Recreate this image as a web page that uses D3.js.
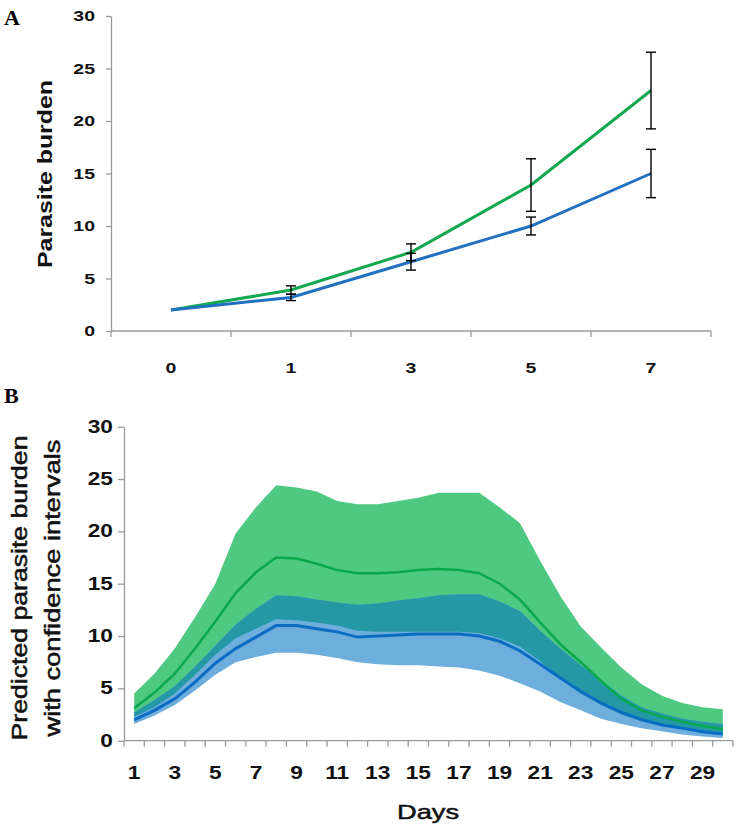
<!DOCTYPE html>
<html>
<head>
<meta charset="utf-8">
<script src="https://cdn.jsdelivr.net/npm/d3@7"></script>
<style>
  html, body { margin: 0; padding: 0; background: #fff; }
  svg { display: block; font-family: Arial, "Liberation Sans", sans-serif; }
</style>
</head>
<body>
<svg id="chart" width="738" height="832"></svg>
<script>
// ---------- Panel A data ----------
const catsA = ["0", "1", "3", "5", "7"];
const greenA = [2.0, 3.9, 7.5, 13.9, 22.9];
const greenErrA = [0, 0.4, 0.8, 2.5, 3.65];
const blueA = [2.0, 3.2, 6.6, 10.0, 15.0];
const blueErrA = [0, 0.3, 0.8, 0.85, 2.3];
const ticksA = [0, 5, 10, 15, 20, 25, 30];

// ---------- Panel B data ----------
const daysB = d3.range(1, 31);
const greenHiB = [4.5, 6.4, 8.8, 11.8, 15.0, 19.8, 22.3, 24.4, 24.2, 23.8, 22.9, 22.6, 22.6, 22.9, 23.2, 23.7, 23.7, 23.7, 22.3, 20.8, 17.2, 13.8, 10.9, 8.9, 7.0, 5.4, 4.3, 3.6, 3.2, 3.0];
const greenMidB = [3.1, 4.6, 6.4, 8.8, 11.4, 14.1, 16.1, 17.5, 17.4, 16.9, 16.3, 16.0, 16.0, 16.1, 16.3, 16.4, 16.3, 16.0, 15.0, 13.5, 11.3, 9.2, 7.5, 5.7, 4.0, 2.9, 2.3, 1.8, 1.4, 1.1];
const greenLoB = [2.3, 3.2, 4.5, 6.3, 8.2, 9.8, 10.7, 11.6, 11.5, 11.3, 11.0, 10.5, 10.4, 10.4, 10.4, 10.4, 10.4, 10.3, 9.8, 9.0, 7.6, 5.9, 4.5, 3.4, 2.5, 1.9, 1.4, 1.1, 0.8, 0.6];
const blueHiB = [2.7, 3.9, 5.2, 7.1, 9.1, 11.1, 12.6, 13.9, 13.8, 13.5, 13.2, 13.0, 13.1, 13.4, 13.6, 13.9, 14.0, 14.0, 13.3, 12.4, 10.5, 8.8, 7.2, 5.8, 4.3, 3.2, 2.6, 2.1, 1.8, 1.6];
const blueMidB = [2.0, 2.9, 4.0, 5.6, 7.4, 8.8, 9.9, 11.0, 11.0, 10.7, 10.4, 9.9, 10.0, 10.1, 10.2, 10.2, 10.2, 10.0, 9.5, 8.6, 7.3, 6.0, 4.7, 3.6, 2.7, 2.0, 1.5, 1.2, 0.85, 0.65];
const blueLoB = [1.6, 2.4, 3.4, 4.8, 6.3, 7.5, 8.0, 8.4, 8.4, 8.2, 7.9, 7.5, 7.3, 7.2, 7.2, 7.1, 7.0, 6.7, 6.2, 5.5, 4.7, 3.7, 2.9, 2.1, 1.6, 1.2, 0.9, 0.6, 0.4, 0.25];
const ticksB = [0, 5, 10, 15, 20, 25, 30];

const svg = d3.select("#chart");
const axisColor = "#9a9a9a";
const SX = 1.3; // horizontal widening of the original lettering

// ================= PANEL A =================
const xA = d3.scaleBand().domain(catsA).range([111, 711]);
const yA = d3.scaleLinear().domain([0, 30]).range([331, 16]);
const gA = svg.append("g");

const yAxisA = gA.append("g").attr("transform", "translate(111,0)")
  .call(d3.axisLeft(yA).tickValues(ticksA).tickSize(5).tickSizeOuter(0));
yAxisA.selectAll("path, line").attr("stroke", axisColor).attr("stroke-width", 1.3);
yAxisA.selectAll("text").attr("font-size", 15).attr("font-weight", "bold").attr("fill", "#111")
  .attr("x", -16 / SX).attr("transform", `scale(${SX},1)`);

gA.append("line").attr("x1", 111).attr("x2", 711).attr("y1", yA(0)).attr("y2", yA(0))
  .attr("stroke", axisColor).attr("stroke-width", 1.3);
const boundsA = catsA.map(c => xA(c)).concat([xA(catsA[catsA.length - 1]) + xA.bandwidth()]);
gA.selectAll(".tA").data(boundsA).enter().append("line")
  .attr("x1", d => d).attr("x2", d => d).attr("y1", yA(0)).attr("y2", yA(0) + 6)
  .attr("stroke", axisColor).attr("stroke-width", 1.3);
gA.selectAll(".lA").data(catsA).enter().append("text")
  .attr("transform", d => `translate(${xA(d) + xA.bandwidth() / 2},372.5) scale(${SX},1)`)
  .attr("text-anchor", "middle").attr("font-size", 15).attr("font-weight", "bold").attr("fill", "#111")
  .text(d => d);

const cxA = (d, i) => xA(catsA[i]) + xA.bandwidth() / 2;
const lineA = d3.line().x((d, i) => cxA(d, i)).y(d => yA(d));
gA.append("path").datum(greenA).attr("d", lineA).attr("fill", "none")
  .attr("stroke", "#12a84f").attr("stroke-width", 3);
gA.append("path").datum(blueA).attr("d", lineA).attr("fill", "none")
  .attr("stroke", "#2270c0").attr("stroke-width", 3);

function errBars(vals, errs) {
  vals.forEach((v, i) => {
    if (!errs[i]) return;
    const x = cxA(v, i), y1 = yA(v - errs[i]), y2 = yA(v + errs[i]);
    gA.append("line").attr("x1", x).attr("x2", x).attr("y1", y1).attr("y2", y2).attr("stroke", "#000").attr("stroke-width", 1.4);
    [y1, y2].forEach(y => gA.append("line").attr("x1", x - 5).attr("x2", x + 5).attr("y1", y).attr("y2", y).attr("stroke", "#000").attr("stroke-width", 1.4));
  });
}
errBars(greenA, greenErrA);
errBars(blueA, blueErrA);

gA.append("text").attr("transform", "translate(52,174) rotate(-90)")
  .attr("text-anchor", "middle").attr("font-size", 19.5).attr("font-weight", "bold").attr("fill", "#111")
  .attr("textLength", 188).attr("lengthAdjust", "spacingAndGlyphs")
  .text("Parasite burden");
svg.append("text").attr("x", 4).attr("y", 25).attr("font-family", "'Liberation Serif', 'Times New Roman', serif")
  .attr("font-size", 22).attr("font-weight", "bold").text("A");

// ================= PANEL B =================
const xB = d3.scaleBand().domain(daysB).range([124, 733]);
const yB = d3.scaleLinear().domain([0, 30]).range([740.7, 426.7]);
const gB = svg.append("g");
const cxB = (d, i) => xB(daysB[i]) + xB.bandwidth() / 2;

const idx = d3.range(daysB.length);
const areaG = d3.area().x(i => cxB(null, i)).y0(i => yB(greenLoB[i])).y1(i => yB(greenHiB[i]));
const areaBl = d3.area().x(i => cxB(null, i)).y0(i => yB(blueLoB[i])).y1(i => yB(blueHiB[i]));
const areaOv = d3.area().x(i => cxB(null, i))
  .y0(i => yB(Math.max(greenLoB[i], blueLoB[i])))
  .y1(i => yB(Math.max(Math.max(greenLoB[i], blueLoB[i]), Math.min(greenHiB[i], blueHiB[i]))));

gB.append("path").datum(idx).attr("d", areaG).attr("fill", "#4fc882");
gB.append("path").datum(idx).attr("d", areaBl).attr("fill", "#6daedc");
gB.append("path").datum(idx).attr("d", areaOv).attr("fill", "#2598a6");

const lineB = d3.line().x((d, i) => cxB(d, i)).y(d => yB(d));
gB.append("path").datum(greenMidB).attr("d", lineB).attr("fill", "none")
  .attr("stroke", "#0aa84e").attr("stroke-width", 2.5);
gB.append("path").datum(blueMidB).attr("d", lineB).attr("fill", "none")
  .attr("stroke", "#0a6cc4").attr("stroke-width", 3);

const yAxisB = gB.append("g").attr("transform", "translate(124,0)")
  .call(d3.axisLeft(yB).tickValues(ticksB).tickSize(6).tickSizeOuter(0));
yAxisB.selectAll("path, line").attr("stroke", axisColor).attr("stroke-width", 1.3);
yAxisB.selectAll("text").attr("font-size", 17.5).attr("font-weight", "bold").attr("fill", "#111")
  .attr("x", -11 / SX).attr("transform", `scale(${SX},1)`);

gB.append("line").attr("x1", 124).attr("x2", 733).attr("y1", yB(0)).attr("y2", yB(0))
  .attr("stroke", axisColor).attr("stroke-width", 1.3);
const boundsB = daysB.map(d => xB(d)).concat([xB(daysB[daysB.length - 1]) + xB.bandwidth()]);
gB.selectAll(".tB").data(boundsB).enter().append("line")
  .attr("x1", d => d).attr("x2", d => d).attr("y1", yB(0)).attr("y2", yB(0) + 6)
  .attr("stroke", axisColor).attr("stroke-width", 1.3);
gB.selectAll(".lB").data(daysB.filter(d => d % 2 === 1)).enter().append("text")
  .attr("transform", d => `translate(${xB(d) + xB.bandwidth() / 2},779) scale(${SX},1)`)
  .attr("text-anchor", "middle").attr("font-size", 17.5).attr("font-weight", "bold").attr("fill", "#111")
  .text(d => d);

gB.append("text").attr("transform", `translate(428,819) scale(1.33,1)`).attr("text-anchor", "middle")
  .attr("font-size", 20.5).attr("fill", "#111").attr("stroke", "#111").attr("stroke-width", 0.5)
  .text("Days");

const yt = gB.append("text").attr("transform", "translate(0,588) rotate(-90)")
  .attr("text-anchor", "middle").attr("font-size", 21.5).attr("fill", "#111")
  .attr("stroke", "#111").attr("stroke-width", 0.5);
yt.append("tspan").attr("x", 0).attr("y", 27).attr("textLength", 305).attr("lengthAdjust", "spacingAndGlyphs")
  .text("Predicted parasite burden");
yt.append("tspan").attr("x", 0).attr("y", 60).attr("textLength", 297).attr("lengthAdjust", "spacingAndGlyphs")
  .text("with confidence intervals");

svg.append("text").attr("x", 4).attr("y", 403).attr("font-family", "'Liberation Serif', 'Times New Roman', serif")
  .attr("font-size", 22).attr("font-weight", "bold").text("B");
</script>
</body>
</html>
